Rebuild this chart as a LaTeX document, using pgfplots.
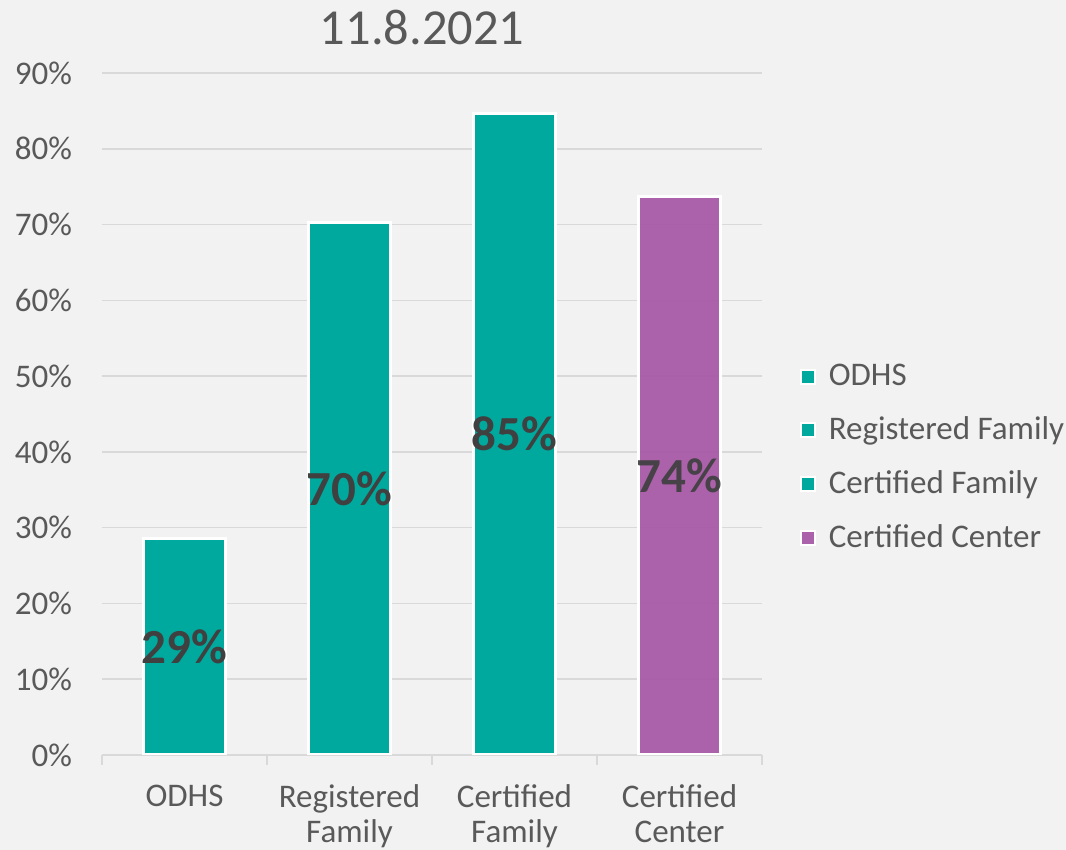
\documentclass[border=0pt]{standalone}
\usepackage{fontspec}
\setmainfont{Carlito}
\usepackage{pgfplots}
\pgfplotsset{compat=1.18}
\definecolor{bg}{HTML}{F2F2F2}
\definecolor{teal1}{HTML}{00A99D}
\definecolor{purp}{HTML}{A757A6}
\definecolor{txt}{HTML}{595959}
\definecolor{lbl}{HTML}{404040}
\definecolor{grd}{HTML}{D9D9D9}
\begin{document}
\begin{tikzpicture}
\fill[bg] (0,0) rectangle (533pt,425pt);
\begin{axis}[
  at={(51pt,47.5pt)}, anchor=south west,
  scale only axis, width=330pt, height=341pt,
  xmin=-0.5, xmax=3.5, ymin=0, ymax=90,
  ybar, bar width=0.5, bar shift=0pt,
  /pgf/number format/assume math mode=true,
  ytick={0,10,...,90},
  yticklabel={\pgfmathprintnumber{\tick}\%},
  ymajorgrids, grid style={grd, line width=0.75pt},
  axis x line*=bottom, axis y line*=left,
  y axis line style={draw=none},
  x axis line style={grd, line width=0.75pt, -},
  tick align=outside,
  ytick style={draw=none},
  xtick={0,1,2,3},
  xticklabels={ODHS, Registered\\Family, Certified\\Family, Certified\\Center},
  xticklabel style={align=center, font=\fontsize{16.5}{17.5}\selectfont, text=txt, yshift=-11.5pt},
  yticklabel style={font=\fontsize{16.5}{18}\selectfont, text=txt, xshift=-11.5pt},
  major tick length=0pt,
  extra x ticks={-0.5,0.5,1.5,2.5,3.5},
  extra x tick labels={},
  extra x tick style={grid=none, major tick length=5pt, xtick style={draw=grd, line width=0.75pt}},
  title={11.8.2021},
  title style={at={(0.485,1)}, anchor=center, yshift=17pt, font=\fontsize{25.2}{28}\selectfont, text=txt},
  point meta=y,
  nodes near coords={\pgfmathprintnumber[fixed,precision=0]{\pgfplotspointmeta}\%},
  visualization depends on={rawy \as \rawy},
  every node near coord/.append style={anchor=center, font=\bfseries\fontsize{24.5}{28}\selectfont, text=lbl, shift={(axis direction cs:0,-\rawy/2)}},
  legend style={at={(1,0.436)}, anchor=west, xshift=16pt, draw=none, fill=none, font=\fontsize{16.5}{18}\selectfont, text=txt, row sep=10pt, legend cell align=left},
  legend image code/.code={\draw[#1, line width=0.8pt] (0pt,-3.5pt) rectangle (7pt,3.5pt); \path (11pt,0pt);},
]
\addplot[fill=teal1, draw=white, line width=1.6pt] coordinates {(0,28.6)};
\addlegendentry{ODHS}
\addplot[fill=teal1, draw=white, line width=1.6pt] coordinates {(1,70.3)};
\addlegendentry{Registered Family}
\addplot[fill=teal1, draw=white, line width=1.6pt] coordinates {(2,84.7)};
\addlegendentry{Certified Family}
\addplot[fill=purp, fill opacity=0.93, draw=white, line width=1.6pt] coordinates {(3,73.7)};
\addlegendentry{Certified Center}
\end{axis}
\pgfresetboundingbox
\useasboundingbox (0,0) rectangle (533pt,425pt);
\end{tikzpicture}
\end{document}
